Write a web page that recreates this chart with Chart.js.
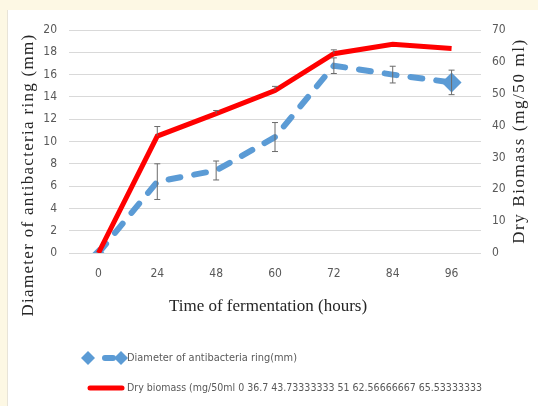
<!DOCTYPE html>
<html>
<head>
<meta charset="utf-8">
<script src="https://cdn.jsdelivr.net/npm/chart.js@4"></script>
<style>
  html, body { margin: 0; padding: 0; background: #fdf8e4; }
  #wrap { width: 538px; height: 406px; position: relative; }
</style>
</head>
<body>
<div id="wrap"><canvas id="c" width="538" height="406"></canvas></div>
<script>
// Fermentation time points (hours)
const hours = ['0', '24', '48', '60', '72', '84', '96'];
// Diameter of antibacterial ring (mm) and its error
const ringDiameter = [0, 6.4, 7.4, 10.4, 16.8, 16.0, 15.3];
const ringError = [0, 1.6, 0.85, 1.3, 0.7, 0.75, 1.1];
// Dry biomass (mg/50 ml) and its upper error
const dryBiomass = [0, 36.7, 43.73333333, 51, 62.56666667, 65.53333333, 64.2];
const biomassError = [0, 3.0, 1.0, 1.3, 1.2, 0, 0];
// Axis ranges
const leftTicks = [0, 2, 4, 6, 8, 10, 12, 14, 16, 18, 20];
const rightTicks = [0, 10, 20, 30, 40, 50, 60, 70];

const NARROW = "'Liberation Sans Narrow', 'DejaVu Sans Condensed', 'Liberation Sans', sans-serif";
const SERIF = "'Liberation Serif', 'DejaVu Serif', serif";
const BLUE = '#5b9bd5';
const RED = '#ff0000';

const ringLabel = 'Diameter of antibacteria ring(mm)';
const biomassLabel = 'Dry biomass (mg/50ml ' + dryBiomass.slice(0, 6).join(' ');

function diamond(ctx, x, y, r) {
  ctx.beginPath();
  ctx.moveTo(x, y - r);
  ctx.lineTo(x + r, y);
  ctx.lineTo(x, y + r);
  ctx.lineTo(x - r, y);
  ctx.closePath();
  ctx.fill();
}

const framePlugin = {
  id: 'frame',
  beforeDraw(chart) {
    const ctx = chart.ctx;
    ctx.save();
    ctx.fillStyle = '#fdf8e4';
    ctx.fillRect(0, 0, chart.width, chart.height);
    ctx.fillStyle = '#ffffff';
    ctx.fillRect(7, 10, chart.width - 7, chart.height - 10);
    ctx.fillStyle = '#e8e4d8';
    ctx.fillRect(7, 10, 1, chart.height - 10);
    ctx.restore();
  }
};

const errorBarPlugin = {
  id: 'errorBars',
  afterDatasetsDraw(chart) {
    const ctx = chart.ctx;
    const x = chart.scales.x, y = chart.scales.y, y1 = chart.scales.y1;
    ctx.save();
    ctx.strokeStyle = '#6b6b6b';
    ctx.lineWidth = 1;
    const cap = 3;
    hours.forEach((h, i) => {
      const px = x.getPixelForValue(i);
      // ring diameter: symmetric bars
      if (ringError[i] > 0) {
        const top = y.getPixelForValue(ringDiameter[i] + ringError[i]);
        const bot = y.getPixelForValue(ringDiameter[i] - ringError[i]);
        ctx.beginPath();
        ctx.moveTo(px, top); ctx.lineTo(px, bot);
        ctx.moveTo(px - cap, top); ctx.lineTo(px + cap, top);
        ctx.moveTo(px - cap, bot); ctx.lineTo(px + cap, bot);
        ctx.stroke();
      }
      // dry biomass: plus bars
      if (biomassError[i] > 0) {
        const top = y1.getPixelForValue(dryBiomass[i] + biomassError[i]);
        const mid = y1.getPixelForValue(dryBiomass[i]);
        ctx.beginPath();
        ctx.moveTo(px, top); ctx.lineTo(px, mid);
        ctx.moveTo(px - cap, top); ctx.lineTo(px + cap, top);
        ctx.stroke();
      }
    });
    ctx.restore();
  }
};

const textPlugin = {
  id: 'texts',
  afterDraw(chart) {
    const ctx = chart.ctx;
    ctx.save();
    ctx.fillStyle = '#262626';
    ctx.textAlign = 'center';
    ctx.textBaseline = 'middle';
    // x axis title
    ctx.font = '17px ' + SERIF;
    ctx.fillText('Time of fermentation (hours)', 268, 307);
    // left axis title
    ctx.save();
    ctx.translate(29, 175);
    ctx.rotate(-Math.PI / 2);
    ctx.font = '17px ' + SERIF;
    ctx.letterSpacing = '1.3px';
    ctx.fillText('Diameter of antibacteria ring (mm)', 0, 0);
    ctx.restore();
    // right axis title
    ctx.save();
    ctx.translate(520, 141);
    ctx.rotate(-Math.PI / 2);
    ctx.font = '17px ' + SERIF;
    ctx.letterSpacing = '1.6px';
    ctx.fillText('Dry Biomass (mg/50 ml)', 0, 0);
    ctx.restore();

    // legend
    ctx.fillStyle = BLUE;
    diamond(ctx, 88, 358, 7);
    diamond(ctx, 121, 358, 7);
    ctx.strokeStyle = BLUE;
    ctx.lineWidth = 6;
    ctx.lineCap = 'round';
    ctx.beginPath();
    ctx.moveTo(105, 358); ctx.lineTo(113, 358);
    ctx.stroke();
    ctx.strokeStyle = RED;
    ctx.lineWidth = 5;
    ctx.beginPath();
    ctx.moveTo(90, 388); ctx.lineTo(122, 388);
    ctx.stroke();

    ctx.fillStyle = '#595959';
    ctx.textAlign = 'left';
    ctx.font = '11px ' + NARROW;
    ctx.fillText(ringLabel, 127, 358, 170);
    ctx.fillText(biomassLabel, 127, 388, 355);
    ctx.restore();
  }
};

new Chart(document.getElementById('c'), {
  type: 'line',
  data: {
    labels: hours,
    datasets: [
      {
        label: ringLabel,
        data: ringDiameter,
        yAxisID: 'y',
        borderColor: BLUE,
        backgroundColor: BLUE,
        borderWidth: 6,
        borderDash: [12, 14],
        borderCapStyle: 'round',
        pointStyle: 'rectRot',
        pointRadius: [6, 0, 0, 0, 0, 0, 10],
        pointBorderWidth: 0,
        tension: 0,
        order: 2
      },
      {
        label: biomassLabel,
        data: dryBiomass,
        yAxisID: 'y1',
        borderColor: RED,
        backgroundColor: RED,
        borderWidth: 5,
        pointRadius: 0,
        tension: 0,
        order: 1
      }
    ]
  },
  options: {
    responsive: false,
    animation: false,
    devicePixelRatio: 1,
    layout: { padding: { top: 30, left: 0, right: 0, bottom: 0 } },
    plugins: { legend: { display: false }, tooltip: { enabled: false } },
    scales: {
      x: {
        offset: true,
        grid: { display: false, drawTicks: false },
        border: { display: false },
        ticks: { padding: 14, color: '#595959', font: { family: NARROW, size: 12 } },
        afterFit(s) { s.height = 153; }
      },
      y: {
        position: 'left',
        min: leftTicks[0],
        max: leftTicks[leftTicks.length - 1],
        afterBuildTicks(s) { s.ticks = leftTicks.map(v => ({ value: v })); },
        grid: { color: '#d9d9d9', lineWidth: 1, drawTicks: false },
        border: { display: false },
        ticks: { padding: 12, color: '#595959', font: { family: NARROW, size: 12 } },
        afterFit(s) { s.width = 69; }
      },
      y1: {
        position: 'right',
        min: rightTicks[0],
        max: rightTicks[rightTicks.length - 1],
        afterBuildTicks(s) { s.ticks = rightTicks.map(v => ({ value: v })); },
        grid: { display: false, drawTicks: false },
        border: { display: false },
        ticks: { padding: 11, color: '#595959', font: { family: NARROW, size: 12 } },
        afterFit(s) { s.width = 57; }
      }
    }
  },
  plugins: [framePlugin, errorBarPlugin, textPlugin]
});
</script>
</body>
</html>
